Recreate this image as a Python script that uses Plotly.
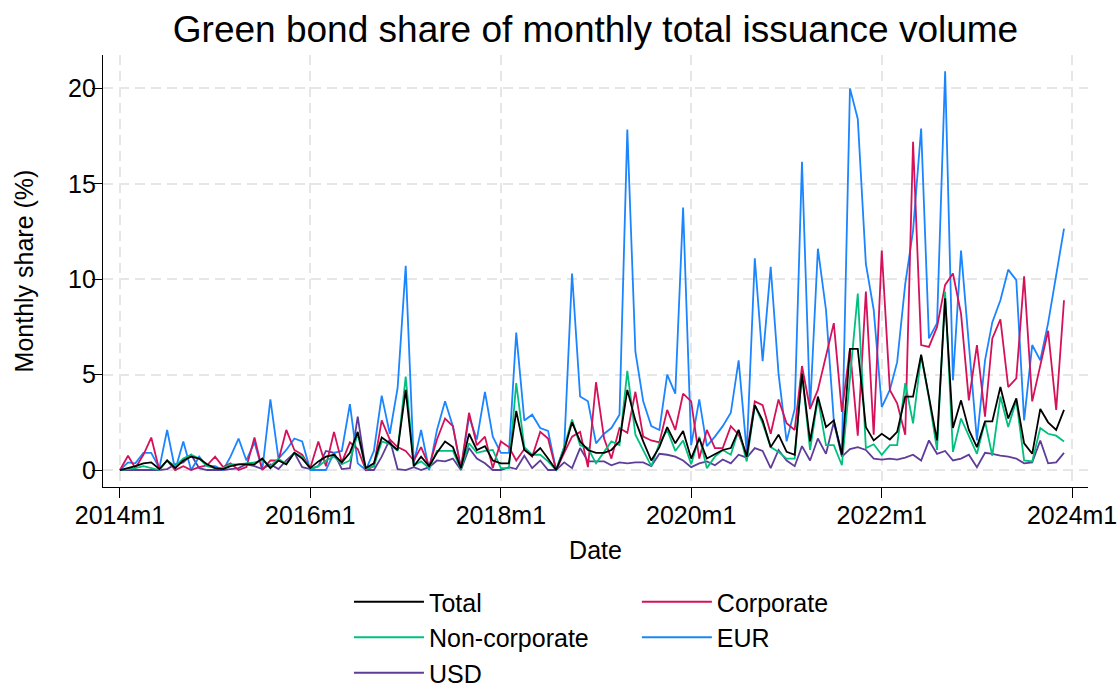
import plotly.graph_objects as go

# Monthly periods 2014m1 .. 2023m12 (as dates for the axis)
months = [f"{y}-{m:02d}-01" for y in range(2014, 2024) for m in range(1, 13)]

total = [0, 0.1, 0.2, 0.35, 0.4, 0.05, 0.5, 0.1, 0.5, 0.7, 0.6, 0.3,
         0.1, 0.05, 0.2, 0.3, 0.3, 0.3, 0.6, 0.1, 0.5, 0.3, 0.9, 0.6,
         0.1, 0.45, 0.7, 0.8, 0.4, 0.9, 2.0, 0.1, 0.35, 1.7, 1.4, 1.05,
         4.2, 0.2, 0.7, 0.2, 0.9, 1.5, 1.2, 0.1, 1.9, 1.05, 1.25, 0.5,
         0.35, 0.35, 3.1, 1.05, 0.75, 1.15, 0.6, 0, 1.05, 2.5, 1.5, 1.05,
         0.9, 0.9, 1.05, 1.5, 4.2, 2.6, 1.5, 0.5, 1.2, 2.25, 1.4, 2.05,
         0.6, 1.65, 0.6, 0.85, 1.05, 1.15, 2.1, 0.7, 3.4, 2.6, 1.2, 1.85,
         0.95, 0.8, 5.05, 1.5, 3.85, 2.25, 2.6, 0.8, 6.35, 6.35, 2.25, 1.55,
         1.9, 1.6, 2.0, 3.85, 3.85, 6.05, 3.9, 1.55, 9.0, 2.2, 3.65, 2.1,
         1.2, 2.55, 2.55, 4.35, 2.7, 3.75, 1.4, 0.85, 3.2, 2.5, 2.1, 3.15]

non_corporate = [0, 0.05, 0.1, 0.2, 0.1, 0, 0.5, 0.2, 0.6, 0.8, 0.6, 0.2,
                 0.1, 0.1, 0.3, 0.3, 0.35, 0.4, 0.5, 0.2, 0.6, 0.3, 0.9, 0.7,
                 0.05, 0.2, 0.5, 0.7, 0.3, 0.5, 1.9, 0.05, 0.2, 1.5, 1.35, 1.0,
                 4.9, 0.25, 0.45, 0.1, 1.0, 1.0, 1.0, 0.05, 1.4, 0.9, 1.0, 1.05,
                 0.1, 0.1, 4.55, 1.2, 0.8, 0.8, 0.45, 0, 1.2, 2.65, 1.3, 1.15,
                 0.35, 0.95, 1.5, 1.3, 5.2, 1.85, 1.05, 0.2, 1.4, 2.1, 1.0, 1.55,
                 0.3, 1.75, 0.1, 0.7, 1.05, 0.8, 2.1, 0.45, 3.4, 2.45, 1.2, 0.95,
                 0.6, 0.6, 5.05, 1.05, 3.75, 1.3, 1.3, 0.25, 4.8, 9.25, 1.15, 1.35,
                 0.8, 1.3, 1.3, 4.55, 2.45, 6.0, 3.75, 1.05, 9.35, 0.95, 2.7, 1.75,
                 0.85, 2.55, 0.75, 3.85, 2.25, 3.65, 0.5, 0.45, 2.2, 1.9, 1.8, 1.5]

corporate = [0, 0.75, 0.1, 0.8, 1.7, 0, 0.5, 0, 0.2, 0, 0.15, 0.25,
             0.7, 0.15, 0.35, 0, 0.15, 1.7, 0, 0.5, 0.5, 2.1, 1.05, 0.8,
             0.1, 1.5, 0.2, 2.0, 0.4, 1.45, 1.1, 0, 0.2, 2.6, 1.6, 1.2,
             1.0, 0.5, 1.2, 0.2, 1.6, 2.7, 2.3, 0.1, 3.0, 1.3, 1.75, 0.1,
             1.5, 1.2, 0.5, 1.1, 0.7, 2.0, 1.65, 0, 0.9, 1.75, 2.0, 0.15,
             4.6, 1.65, 0.6, 2.2, 1.95, 4.1, 1.75, 1.55, 1.45, 3.15, 2.1, 4.0,
             3.6, 0.6, 2.1, 1.15, 1.15, 2.3, 1.85, 0.8, 3.6, 3.4, 1.9, 3.7,
             2.45, 2.1, 5.45, 3.2, 4.2, 5.95, 7.7, 3.05, 6.35, 1.8, 9.35, 1.85,
             11.5, 4.2, 3.5, 1.85, 17.2, 6.55, 6.45, 7.5, 9.7, 10.3, 8.2, 3.65,
             6.55, 2.8, 6.9, 7.9, 4.35, 4.8, 10.15, 3.6, 5.4, 7.3, 3.15, 8.9]

eur = [0, 0.4, 0.35, 0.9, 0.9, 0.1, 2.1, 0, 1.5, 0, 0.7, 0.2,
       0.2, 0, 0.7, 1.65, 0.5, 1.45, 0, 3.7, 0.6, 1.05, 1.65, 1.5,
       0, 0, 0, 0.9, 1.0, 3.45, 0.35, 0, 1.0, 3.9, 1.9, 4.3,
       10.7, 0.35, 2.1, 0, 2.1, 3.6, 2.3, 0.05, 2.8, 1.6, 4.1, 1.75,
       0.9, 0.9, 7.2, 2.6, 2.9, 2.2, 2.05, 0, 1.2, 10.3, 3.85, 3.6,
       1.4, 1.9, 2.2, 2.9, 17.85, 6.2, 3.6, 2.3, 2.1, 5.0, 4.0, 13.75,
       1.3, 3.7, 1.25, 1.75, 2.3, 3.0, 5.75, 0.95, 11.1, 5.7, 10.65, 5.05,
       1.5, 3.2, 16.15, 3.2, 11.6, 8.4, 2.6, 0.85, 20.0, 18.4, 10.8, 8.4,
       3.3, 4.2, 5.65, 9.75, 12.55, 17.9, 6.9, 7.7, 20.9, 4.7, 11.5, 6.6,
       1.55, 5.75, 7.75, 8.9, 10.5, 9.95, 2.6, 6.55, 5.75, 7.7, 10.3, 12.65]

usd = [0, 0, 0, 0, 0, 0, 0.05, 0.3, 0.4, 0.8, 0.1, 0,
       0, 0, 0.05, 0.1, 0.3, 0.2, 0.05, 0.3, 0.05, 0.5, 0.9, 0.15,
       0.05, 0.2, 1.0, 0.9, 0.05, 0.1, 2.8, 0, 0, 0.7, 1.6, 0.05,
       0, 0.15, 0, 0.15, 0.5, 0.45, 0.6, 0, 1.15, 0.6, 0.35, 0,
       0, 0.15, 0.05, 0.75, 0.1, 0.5, 0, 0, 0.4, 0.1, 1.15, 0.45,
       0.45, 0.45, 0.25, 0.4, 0.35, 0.4, 0.4, 0.2, 0.85, 0.8, 0.7, 0.5,
       0.15, 0.35, 0.45, 0.25, 0.55, 0.35, 0.8, 0.65, 1.15, 1.0, 0.1, 1.05,
       0.5, 0.2, 1.25, 0.5, 1.65, 0.85, 2.5, 0.7, 1.1, 1.2, 1.05, 0.6,
       0.55, 0.6, 0.55, 0.65, 0.8, 0.5, 1.55, 0.85, 1.0, 0.5, 0.6, 0.8,
       0.15, 0.9, 0.85, 0.75, 0.7, 0.6, 0.35, 0.4, 1.55, 0.35, 0.4, 0.9]

x_tick_vals = ["2014-01-01", "2016-01-01", "2018-01-01", "2020-01-01", "2022-01-01", "2024-01-01"]
x_tick_text = ["2014m1", "2016m1", "2018m1", "2020m1", "2022m1", "2024m1"]
y_ticks = [0, 5, 10, 15, 20]

FONT = "Liberation Sans, Arial, sans-serif"

series = [
    ("Total", total, "#000000", "legend", 1),
    ("Non-corporate", non_corporate, "#00BF7F", "legend", 2),
    ("USD", usd, "#5E3C99", "legend", 3),
    ("Corporate", corporate, "#D41159", "legend2", 1),
    ("EUR", eur, "#1A85FF", "legend2", 2),
]

fig = go.Figure()
draw_order = ["USD", "EUR", "Corporate", "Non-corporate", "Total"]
for name in draw_order:
    for (n, vals, col, leg, rank) in series:
        if n == name:
            fig.add_trace(go.Scatter(
                x=months, y=vals, mode="lines", name=n,
                line=dict(color=col, width=1.8),
                legend=leg, legendrank=rank,
            ))

grid = dict(showgrid=True, gridcolor="#e6e6e6", gridwidth=1.5, griddash="10px,6px")

fig.update_layout(
    width=1118, height=688,
    margin=dict(l=103, r=30, t=55, b=201, autoexpand=False),
    paper_bgcolor="white", plot_bgcolor="white",
    font=dict(family=FONT, size=25, color="black"),
    title=dict(text="Green bond share of monthly total issuance volume",
               x=0.5, xref="paper", xanchor="center",
               y=1 - 29 / 688, yref="container", yanchor="middle",
               font=dict(size=37, family=FONT, color="black")),
    xaxis=dict(type="date", range=["2013-10-28", "2024-03-02"],
               tickmode="array", tickvals=x_tick_vals, ticktext=x_tick_text,
               ticks="outside", ticklen=10, tickwidth=1.3, tickcolor="black",
               ticklabelstandoff=-4,
               showline=True, linecolor="black", linewidth=1.3,
               title=dict(text="Date", standoff=13, font=dict(size=25)),
               tickfont=dict(size=25), **grid),
    yaxis=dict(range=[-0.89, 21.75], tickmode="array", tickvals=y_ticks,
               ticks="outside", ticklen=10, tickwidth=1.3, tickcolor="black",
               ticklabelstandoff=-9,
               showline=True, linecolor="black", linewidth=1.3, zeroline=False,
               title=dict(text="Monthly share (%)", standoff=27, font=dict(size=25)),
               tickfont=dict(size=25), **grid),
    legend=dict(x=0.2497, y=-0.213, xanchor="left", yanchor="top",
                orientation="v", font=dict(size=25), bgcolor="rgba(0,0,0,0)",
                traceorder="normal", itemwidth=70),
    legend2=dict(x=0.542, y=-0.213, xanchor="left", yanchor="top",
                 orientation="v", font=dict(size=25), bgcolor="rgba(0,0,0,0)",
                 traceorder="normal", itemwidth=70),
)
fig.update_xaxes(automargin=False)
fig.update_yaxes(automargin=False)

fig.write_html("out.html")
